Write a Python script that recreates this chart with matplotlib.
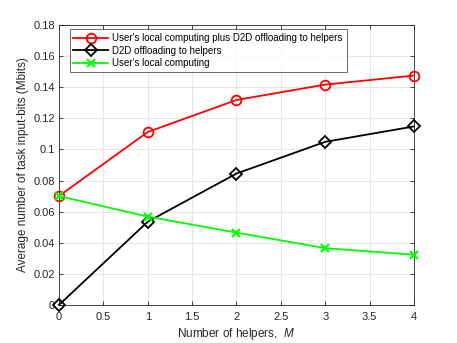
import matplotlib
matplotlib.use('Agg')
import matplotlib.pyplot as plt
import numpy as np

# data
helpers = [0, 1, 2, 3, 4]
local_plus_d2d = [0.070, 0.1112, 0.1318, 0.1417, 0.1475]
d2d_only = [0.0, 0.0535, 0.0845, 0.1049, 0.1148]
local_only = [0.070, 0.0568, 0.0465, 0.0365, 0.0323]

series_names = ["User's local computing plus D2D offloading to helpers",
                "D2D offloading to helpers",
                "User's local computing"]

plt.rcParams['font.family'] = ['Liberation Sans', 'DejaVu Sans']
plt.rcParams['mathtext.fontset'] = 'custom'
plt.rcParams['mathtext.it'] = 'Liberation Sans:italic'
plt.rcParams['mathtext.rm'] = 'Liberation Sans'

fig = plt.figure(figsize=(4.57, 3.43), dpi=100)
ax = fig.add_axes([0.129, 0.111, 0.777, 0.816])

ax.plot(helpers, local_plus_d2d, '-o', color='red', lw=1.3, ms=7,
        mfc='none', mew=1.3, clip_on=False, zorder=3, label=series_names[0])
ax.plot(helpers, d2d_only, '-D', color='black', lw=1.3, ms=6,
        mfc='none', mew=1.3, clip_on=False, zorder=3, label=series_names[1])
ax.plot(helpers, local_only, '-x', color='#00ff00', lw=1.3, ms=6,
        mew=1.5, clip_on=False, zorder=3, label=series_names[2])

ax.set_xlim(0, 4)
ax.set_ylim(0, 0.18)
ax.set_xticks(np.arange(0, 4.01, 0.5))
ax.set_xticklabels(['0', '0.5', '1', '1.5', '2', '2.5', '3', '3.5', '4'])
ax.set_yticks(np.arange(0, 0.181, 0.02))
ax.set_yticklabels(['0', '0.02', '0.04', '0.06', '0.08', '0.1', '0.12',
                    '0.14', '0.16', '0.18'])

# matlab-ish look
ax.grid(True, color='#e6e6e6', lw=0.7)
ax.set_axisbelow(True)
ax.tick_params(direction='in', length=3, width=0.6, labelsize=8,
               colors='#262626', top=True, right=True)
ax.tick_params(axis='x', pad=5)
ax.tick_params(axis='y', pad=3)
for s in ax.spines.values():
    s.set_color('#262626')
    s.set_linewidth(0.6)

ax.set_xlabel('Number of helpers,  $M$', fontsize=8.5, color='#262626', labelpad=3)
ax.set_ylabel('Average number of task input-bits (Mbits)', fontsize=8.5,
              color='#262626', labelpad=3)

leg = ax.legend(loc='upper left', bbox_to_anchor=(0.03, 0.985), fontsize=7,
                frameon=True, fancybox=False, edgecolor='#262626',
                handlelength=3.6, borderpad=0.4, labelspacing=0.25,
                handletextpad=0.4, borderaxespad=0)
leg.get_frame().set_linewidth(0.6)

plt.savefig('out.png', dpi=100)
